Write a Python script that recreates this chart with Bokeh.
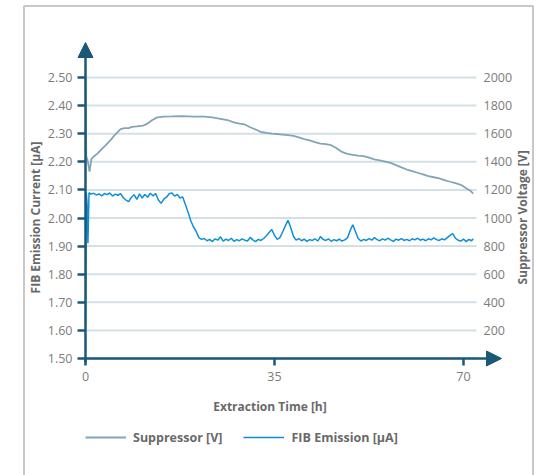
import math
from bokeh.plotting import figure
from bokeh.models import (Range1d, LinearAxis, FixedTicker, NumeralTickFormatter,
                          Arrow, NormalHead, Legend, LegendItem, Label)
from bokeh.embed import file_html
from bokeh.resources import INLINE

# ---------------- data ----------------
x_ticks = [0, 35, 70]
y_ticks = [1.5, 1.6, 1.7, 1.8, 1.9, 2.0, 2.1, 2.2, 2.3, 2.4, 2.5]
volt_ticks = [200, 400, 600, 800, 1000, 1200, 1400, 1600, 1800, 2000]

fib_hours = [0.0, 0.15, 0.3, 0.45, 0.65, 1.0,
             1.5, 2.0, 2.5, 3.0, 3.5, 4.0, 4.5, 5.0, 5.5, 6.0, 6.5, 7.0, 7.5, 8.0,
             8.5, 9.0, 9.5, 10.0, 10.5, 11.0, 11.5, 12.0, 12.5, 13.0, 13.5, 14.0,
             14.5, 15.0, 15.5, 16.0, 16.5, 17.0, 17.5, 18.0, 18.5, 19.0, 19.5, 20.0,
             20.5, 21.0, 21.5,
             22.0, 22.5, 23.0, 23.5, 24.0, 24.5, 25.0, 25.5, 26.0, 26.5, 27.0, 27.5,
             28.0, 28.5, 29.0, 29.5, 30.0, 30.5, 31.0, 31.5, 32.0, 32.5, 33.0, 33.5,
             34.0, 34.5, 35.0, 35.5, 36.0, 36.5, 37.0, 37.5, 38.0, 38.5, 39.0, 39.5,
             40.0, 40.5, 41.0, 41.5, 42.0, 42.5, 43.0, 43.5, 44.0, 44.5, 45.0, 45.5,
             46.0, 46.5, 47.0, 47.5, 48.0, 48.5, 49.0, 49.5, 50.0, 50.5, 51.0, 51.5,
             52.0, 52.5, 53.0, 53.5, 54.0, 54.5, 55.0, 55.5, 56.0, 56.5, 57.0, 57.5,
             58.0, 58.5, 59.0, 59.5, 60.0, 60.5, 61.0, 61.5, 62.0, 62.5, 63.0, 63.5,
             64.0, 64.5, 65.0, 65.5, 66.0, 66.5, 67.0, 67.5, 68.0, 68.5, 69.0, 69.5,
             70.0, 70.5, 71.0, 71.5, 71.8]
fib_current = [1.62, 2.09, 2.05, 1.91, 2.09, 2.085,
               2.088, 2.082, 2.086, 2.079, 2.087, 2.083, 2.089, 2.078, 2.085, 2.081,
               2.087, 2.072, 2.064, 2.058, 2.074, 2.083, 2.066, 2.086, 2.071, 2.084,
               2.074, 2.088, 2.079, 2.087, 2.064, 2.052, 2.067, 2.074, 2.086, 2.089,
               2.078, 2.084, 2.071, 2.075, 2.048, 2.020, 1.990, 1.968, 1.952, 1.930,
               1.924,
               1.927, 1.919, 1.924, 1.916, 1.926, 1.921, 1.933, 1.918, 1.925, 1.920,
               1.928, 1.917, 1.923, 1.919, 1.926, 1.921, 1.918, 1.931, 1.922, 1.916,
               1.924, 1.920, 1.927, 1.937, 1.948, 1.959, 1.938, 1.924, 1.930, 1.950,
               1.972, 1.992, 1.966, 1.935, 1.921, 1.927, 1.919, 1.925, 1.917, 1.923,
               1.920, 1.926, 1.918, 1.934, 1.924, 1.920, 1.926, 1.917, 1.923, 1.919,
               1.925, 1.918, 1.922, 1.929, 1.955, 1.976, 1.951, 1.927, 1.918, 1.924,
               1.920, 1.927, 1.921, 1.930, 1.923, 1.919, 1.926, 1.921, 1.928, 1.922,
               1.917, 1.925, 1.921, 1.927, 1.920, 1.924, 1.919, 1.926, 1.922, 1.928,
               1.921, 1.925, 1.919, 1.926, 1.922, 1.929, 1.923, 1.920, 1.926, 1.922,
               1.930, 1.938, 1.944, 1.928, 1.921, 1.918, 1.925, 1.916, 1.924, 1.919,
               1.926]

sup_hours = [0.0, 0.15, 0.45, 0.75, 1.1, 1.6, 2.2, 3.0, 3.8, 4.6, 5.5, 6.5, 7.2, 8.0,
             8.6, 9.5, 10.7, 11.5, 12.3, 13.3, 14.5, 16.0, 18.0, 20.0, 22.0, 23.5,
             25.0, 26.5, 27.5, 28.5, 29.5, 30.5, 31.5, 32.5, 33.5, 34.5, 35.5, 36.5,
             37.5, 38.5, 39.5, 40.5, 41.5, 42.5, 43.5, 44.5, 45.5, 46.5, 47.5, 48.5,
             49.5, 50.5, 51.5, 52.5, 53.5, 54.5, 55.5, 56.5, 57.5, 58.5, 59.5, 60.5,
             61.5, 62.5, 63.5, 64.5, 65.5, 66.5, 67.5, 68.5, 69.5, 70.5, 71.2, 71.8]
sup_voltage = [2000, 1440, 1400, 1330, 1420, 1440, 1458, 1490, 1520, 1552, 1594, 1632,
               1640, 1640, 1648, 1652, 1658, 1672, 1696, 1716, 1722, 1723, 1725, 1722,
               1722, 1716, 1706, 1694, 1680, 1672, 1666, 1646, 1630, 1612, 1606, 1600,
               1598, 1594, 1590, 1584, 1574, 1562, 1552, 1540, 1530, 1526, 1518, 1496,
               1470, 1456, 1450, 1444, 1440, 1430, 1418, 1410, 1402, 1392, 1376, 1360,
               1345, 1334, 1322, 1310, 1298, 1290, 1282, 1270, 1258, 1248, 1236, 1212,
               1196, 1174]

x_title = "Extraction Time [h]"
y_title = "FIB Emission Current [µA]"
y2_title = "Suppressor Voltage [V]"

# ---------------- geometry (pixels) ----------------
W, H = 539, 475
X0_PX, PX_PER_H = 85.0, 5.4        # x=0 h at 85 px, 5.4 px per hour
Y0_PX, PX_PER_UA = 358.0, 281.0    # 1.50 uA at 358 px, 281 px per uA
def dx(px):
    return (px - X0_PX) / PX_PER_H
def dy(py):
    return 1.5 + (Y0_PX - py) / PX_PER_UA

AX = "#1b5878"
GRID = "#d5e0e6"
TICK_TXT = "#7c7c7c"
TITLE_TXT = "#696969"
FONT = "Open Sans"

p = figure(width=W, height=H, output_backend="svg", toolbar_location=None,
           x_range=Range1d(dx(0), dx(W)), y_range=Range1d(dy(H), dy(0)),
           min_border_left=0, min_border_right=0, min_border_top=0,
           min_border_bottom=0)
p.outline_line_color = None
p.background_fill_color = "white"
p.border_fill_color = "white"
p.extra_y_ranges = {"volt": Range1d((dy(H) - 1.5) * 2000, (dy(0) - 1.5) * 2000)}
p.xgrid.grid_line_color = None
p.ygrid.grid_line_color = None

# outer frame
p.line([dx(23.5), dx(23.5), dx(532.5), dx(532.5)],
       [dy(H + 10), dy(5.5), dy(5.5), dy(H + 10)],
       line_color="#c8c8c8", line_width=2)

# grid lines
p.segment(x0=[0] * len(y_ticks), x1=[dx(476)] * len(y_ticks), y0=y_ticks, y1=y_ticks,
          line_color=GRID, line_width=2)

# left axis
ya = p.yaxis[0]
ya.fixed_location = 0
ya.ticker = FixedTicker(ticks=y_ticks)
ya.formatter = NumeralTickFormatter(format="0.00")
ya.axis_line_color = None
ya.major_tick_out = 8
ya.major_tick_in = 0
ya.major_tick_line_color = AX
ya.major_tick_line_width = 2.5
ya.minor_tick_line_color = None
ya.major_label_standoff = 5
ya.major_label_text_font = FONT
ya.major_label_text_font_size = "12.5px"
ya.major_label_text_color = TICK_TXT

# bottom axis
xa = p.xaxis[0]
xa.fixed_location = 1.5
xa.ticker = FixedTicker(ticks=x_ticks)
xa.axis_line_color = None
xa.major_tick_out = 7
xa.major_tick_in = 0
xa.major_tick_line_color = AX
xa.major_tick_line_width = 2.5
xa.minor_tick_line_color = None
xa.major_label_standoff = 6
xa.major_label_text_font = FONT
xa.major_label_text_font_size = "12.5px"
xa.major_label_text_color = TICK_TXT
xa.axis_label = x_title
xa.axis_label_text_font = FONT
xa.axis_label_text_font_style = "bold"
xa.axis_label_text_font_size = "12px"
xa.axis_label_text_color = TITLE_TXT
xa.axis_label_standoff = 14

# right axis
ra = LinearAxis(y_range_name="volt", ticker=FixedTicker(ticks=volt_ticks))
ra.fixed_location = dx(480)
ra.axis_line_color = None
ra.major_tick_out = 0
ra.major_tick_in = 0
ra.minor_tick_line_color = None
ra.major_tick_line_color = None
ra.major_label_standoff = 3
ra.major_label_text_font = FONT
ra.major_label_text_font_size = "12.5px"
ra.major_label_text_color = TICK_TXT
p.add_layout(ra, "right")

# vertical axis titles
for txt, xpx in ((y_title, 35), (y2_title, 522)):
    p.add_layout(Label(x=dx(xpx), y=dy(217), text=txt, angle=math.pi / 2,
                       text_align="center", text_baseline="middle",
                       text_font=FONT, text_font_style="bold",
                       text_font_size="12px", text_color=TITLE_TXT))

# series
r_sup = p.line(sup_hours, sup_voltage, y_range_name="volt", line_color="#82a5b6",
               line_width=1.8)
r_fib = p.line(fib_hours, fib_current, line_color="#0d8fd6", line_width=1.5)

# axis arrows
p.add_layout(Arrow(end=NormalHead(size=15, fill_color=AX, line_color=AX),
                   x_start=0, y_start=dy(362), x_end=0, y_end=dy(42),
                   line_color=AX, line_width=2.5))
p.add_layout(Arrow(end=NormalHead(size=15, fill_color=AX, line_color=AX),
                   x_start=0, y_start=1.5, x_end=dx(501), y_end=1.5,
                   line_color=AX, line_width=2.5))

legend = Legend(items=[LegendItem(label="Suppressor [V]", renderers=[r_sup]),
                       LegendItem(label="FIB Emission [µA]", renderers=[r_fib])],
                orientation="horizontal", location=(85, 28),
                glyph_width=41, glyph_height=20, label_standoff=7, spacing=21,
                padding=0, margin=0, border_line_color=None,
                background_fill_alpha=0,
                label_text_font=FONT, label_text_font_style="bold",
                label_text_font_size="12.5px", label_text_color=TITLE_TXT)
p.add_layout(legend)

open("out.html", "w").write(file_html(p, INLINE))
